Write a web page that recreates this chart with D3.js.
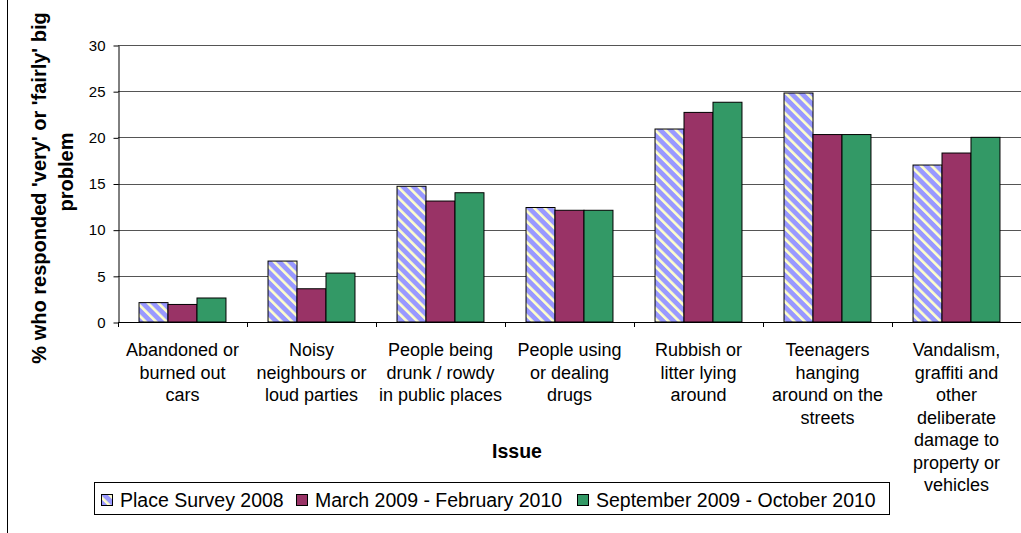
<!DOCTYPE html>
<html><head><meta charset="utf-8">
<script src="https://cdn.jsdelivr.net/npm/d3@7/dist/d3.min.js"></script>
<style>body{margin:0;background:#fff}svg{display:block}text{font-family:"Liberation Sans",Arial,sans-serif}</style>
</head><body><svg id="c" width="1021" height="533"></svg>
<script>
const categories = [
  ["Abandoned or","burned out","cars"],
  ["Noisy","neighbours or","loud parties"],
  ["People being","drunk / rowdy","in public places"],
  ["People using","or dealing","drugs"],
  ["Rubbish or","litter lying","around"],
  ["Teenagers","hanging","around on the","streets"],
  ["Vandalism,","graffiti and","other","deliberate","damage to","property or","vehicles"]
];
const seriesNames = ["Place Survey 2008","March 2009 - February 2010","September 2009 - October 2010"];
const place2008 = [2.1, 6.6, 14.7, 12.4, 20.9, 24.8, 17.0];
const mar09feb10 = [1.9, 3.6, 13.1, 12.1, 22.7, 20.3, 18.3];
const sep09oct10 = [2.6, 5.3, 14.0, 12.1, 23.8, 20.3, 20.0];
const yTicks = [0,5,10,15,20,25,30];
const yLabelLines = ["% who responded 'very' or 'fairly' big","problem"];
const xTitle = "Issue";

const series = [place2008, mar09feb10, sep09oct10];
const fills = ["url(#hatch)","#993366","#339966"];

const svg = d3.select("#c");
const defs = svg.append("defs");
const pat = defs.append("pattern").attr("id","hatch").attr("patternUnits","userSpaceOnUse")
  .attr("width",7.4).attr("height",10).attr("patternTransform","rotate(-45)");
pat.append("rect").attr("width",7.4).attr("height",10).attr("fill","#9999FF");
pat.append("rect").attr("width",2.6).attr("height",10).attr("fill","#FFFFCC");

const L=118, R=1021, T=45, B=322;
const x = d3.scaleBand().domain(d3.range(categories.length)).range([L,R]).paddingInner(0.326).paddingOuter(0.163);
const x1 = d3.scaleBand().domain(d3.range(series.length)).range([0,x.bandwidth()]);
const y = d3.scaleLinear().domain([0,30]).range([B,T]);

// left border line
svg.append("line").attr("x1",7.5).attr("x2",7.5).attr("y1",0).attr("y2",533).attr("stroke","#000");

// gridlines
svg.append("g").selectAll("line").data(yTicks.filter(d=>d>0)).join("line")
  .attr("x1",L).attr("x2",R).attr("y1",d=>Math.round(y(d))+0.5).attr("y2",d=>Math.round(y(d))+0.5)
  .attr("stroke","#555").attr("stroke-width",1);

// y axis
const yAxis = d3.axisLeft(y).tickValues(yTicks).tickSize(5).tickPadding(8).tickSizeOuter(0);
const gy = svg.append("g").attr("transform",`translate(${L+0.5},0.5)`).call(yAxis);
gy.select(".domain").attr("stroke","#000");
gy.selectAll("text").attr("font-size",15).attr("fill","#000").style("font-family","'Liberation Sans',Arial,sans-serif");

// bars
const g = svg.append("g");
categories.forEach((c,i)=>{
  series.forEach((s,j)=>{
    g.append("rect")
      .attr("x", x(i)+x1(j)).attr("width", x1.bandwidth())
      .attr("y", y(s[i])).attr("height", y(0)-y(s[i]))
      .attr("fill", fills[j]).attr("stroke","#000").attr("stroke-width",1);
  });
});

// x axis line and boundary ticks
svg.append("line").attr("x1",L).attr("x2",R).attr("y1",B+0.5).attr("y2",B+0.5).attr("stroke","#000");
const step = x.step();
svg.append("g").selectAll("line").data(d3.range(categories.length+1)).join("line")
  .attr("x1",d=>Math.round(L+d*step)+0.5).attr("x2",d=>Math.round(L+d*step)+0.5)
  .attr("y1",B).attr("y2",B+5).attr("stroke","#000");

// category labels
categories.forEach((lines,i)=>{
  const t = svg.append("text").attr("text-anchor","middle").attr("font-size",18).attr("fill","#000");
  lines.forEach((ln,k)=>{
    t.append("tspan").attr("x", x(i)+x.bandwidth()/2).attr("y", 356+k*22.5).text(ln);
  });
});

// x title
svg.append("text").attr("x",517).attr("y",458).attr("text-anchor","middle")
  .attr("font-size",19.5).attr("font-weight","bold").text(xTitle);

// y title
svg.append("text").attr("transform","translate(46,188) rotate(-90)").attr("text-anchor","middle")
  .attr("font-size",20).attr("font-weight","bold").text(yLabelLines[0]);
svg.append("text").attr("transform","translate(73,172) rotate(-90)").attr("text-anchor","middle")
  .attr("font-size",20).attr("font-weight","bold").text(yLabelLines[1]);

// legend
svg.append("rect").attr("x",94.5).attr("y",482.5).attr("width",795).attr("height",32)
  .attr("fill","#fff").attr("stroke","#000");
const legX = [101, 296, 577];
seriesNames.forEach((n,j)=>{
  svg.append("rect").attr("x",legX[j]+0.5).attr("y",494.5).attr("width",11).attr("height",11)
    .attr("fill",fills[j]).attr("stroke","#000");
  svg.append("text").attr("x",legX[j]+19).attr("y",507).attr("font-size",19.5).text(n);
});
</script></body></html>
